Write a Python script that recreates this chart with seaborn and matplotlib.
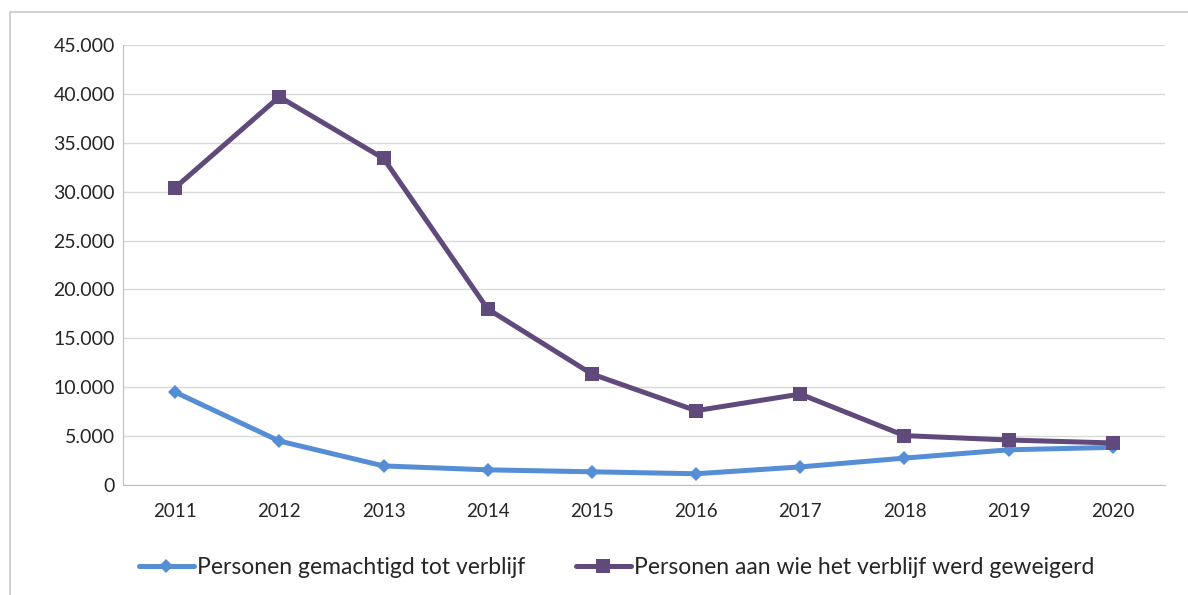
import matplotlib.pyplot as plt
import pandas as pd
import seaborn as sns
from matplotlib.lines import Line2D

jaren = ["2011", "2012", "2013", "2014", "2015", "2016", "2017", "2018", "2019", "2020"]
gemachtigd = [9500, 4500, 1950, 1550, 1350, 1150, 1850, 2750, 3600, 3850]
geweigerd = [30400, 39700, 33400, 18000, 11350, 7600, 9300, 5050, 4600, 4300]

df = pd.DataFrame({"pos": range(len(jaren)), "gemachtigd": gemachtigd, "geweigerd": geweigerd})

sns.set_style("white")
plt.rcParams["font.family"] = ["Lato", "DejaVu Sans"]

fig = plt.figure(figsize=(11.88, 5.95), dpi=100)
ax = fig.add_axes([123 / 1188, 1 - 485 / 595, (1165 - 123) / 1188, (485 - 45) / 595])

# rand links en boven
fig.lines.append(Line2D([10 / 1188, 10 / 1188, 1.0], [0, 1 - 12 / 595, 1 - 12 / 595],
                        transform=fig.transFigure, color="#c8c8c8", linewidth=1.2))

sns.lineplot(data=df, x="pos", y="gemachtigd", ax=ax, color="#558ED5", linewidth=3.6,
             marker="D", markersize=7.5, markeredgewidth=0, label="Personen gemachtigd tot verblijf")
sns.lineplot(data=df, x="pos", y="geweigerd", ax=ax, color="#604A7B", linewidth=3.6,
             marker="s", markersize=10.5, markeredgewidth=0, label="Personen aan wie het verblijf werd geweigerd")

ax.set_xlim(-0.5, len(jaren) - 0.5)
ax.set_ylim(0, 45000)
ax.set_yticks(range(0, 45001, 5000))
ax.set_yticklabels(["0" if v == 0 else f"{v:,}".replace(",", ".") for v in range(0, 45001, 5000)], fontsize=14)
ax.set_xticks(range(len(jaren)))
ax.set_xticklabels(jaren, fontsize=13.5)
ax.set_xticks([i - 0.5 for i in range(len(jaren) + 1)], minor=True)
ax.tick_params(axis="x", which="major", length=0, pad=13)
ax.tick_params(axis="x", which="minor", length=6, color="#bfbfbf", width=1, direction="out")
ax.tick_params(axis="y", length=0, pad=6)
ax.set_xlabel("")
ax.set_ylabel("")

ax.grid(axis="y", color="#d9d9d9", linewidth=1)
ax.set_axisbelow(True)
for s in ["top", "right"]:
    ax.spines[s].set_visible(False)
ax.spines["left"].set_color("#bfbfbf")
ax.spines["bottom"].set_color("#bfbfbf")

ax.legend(loc="upper left", bbox_to_anchor=(118 / 1188, 0.098), bbox_transform=fig.transFigure,
          ncol=2, frameon=False, fontsize=16.5, handlelength=2.4, columnspacing=2.2, handletextpad=0.15)

fig.savefig("out.png", dpi=100)
